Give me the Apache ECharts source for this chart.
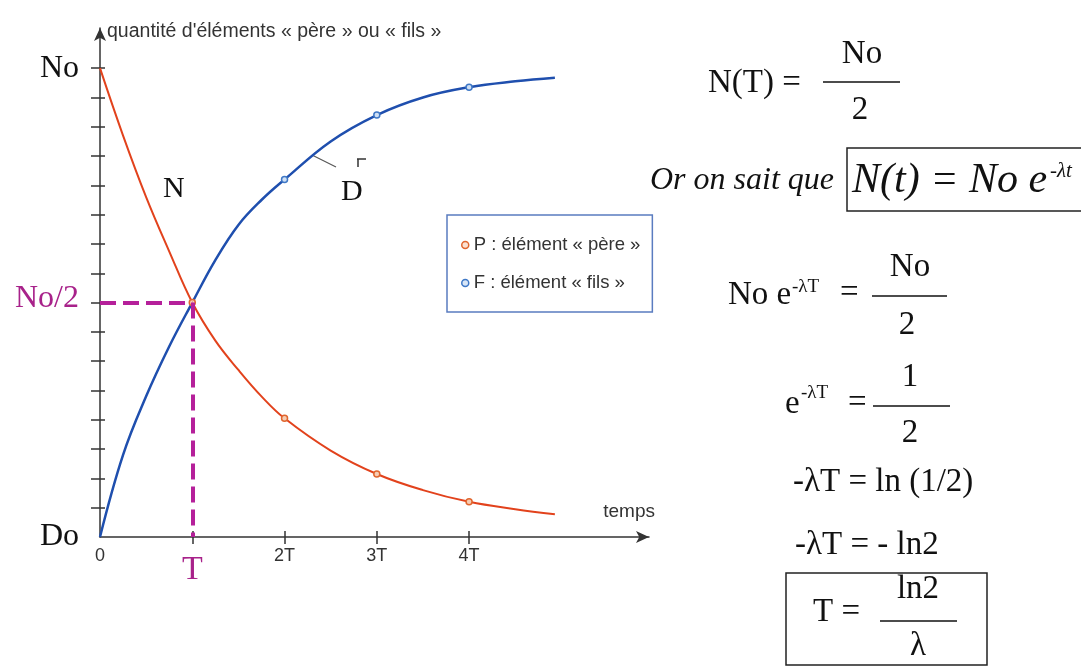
<!DOCTYPE html>
<html>
<head>
<meta charset="utf-8">
<script src="https://cdn.jsdelivr.net/npm/echarts@6/dist/echarts.min.js"></script>
<style>
  html, body { margin: 0; padding: 0; background: #ffffff; }
  #chart { width: 1081px; height: 666px; }
</style>
</head>
<body>
<div id="chart"></div>
<script>
// Décroissance radioactive : quantité d'éléments « père » et « fils » au cours du temps.
// Temps en multiples de la demi-vie T, quantités en seizièmes de No.
const temps = [0, 0.25, 0.5, 0.75, 1, 1.25, 1.5, 1.75, 2, 2.5, 3, 3.5, 4, 4.5, 4.93];
const pere  = [16, 13.7, 11.6, 9.75, 8, 6.7, 5.7, 4.8, 4.05, 2.95, 2.15, 1.6, 1.2, 0.95, 0.78];
const fils  = [0, 2.8, 4.8, 6.5, 8, 9.45, 10.65, 11.5, 12.2, 13.5, 14.4, 15.0, 15.35, 15.55, 15.67];

// instants où un point est marqué sur chaque courbe
const marquesPere = [1, 2, 3, 4];
const marquesFils = [2, 3, 4];

// graduations et libellés des axes
const xTicks = [1, 2, 3, 4];
const xLabelValues = [0, 1, 2, 3, 4];
const xLabels = { 0: '0', 1: 'T', 2: '2T', 3: '3T', 4: '4T' };
const yTicks = [1, 2, 3, 4, 5, 6, 7, 8, 9, 10, 11, 12, 13, 14, 15, 16];
const yLabelValues = [0, 8, 16];
const yLabels = { 0: 'Do', 8: 'No/2', 16: 'No' };

// demi-vie et moitié de la quantité initiale
const demiVie = 1;
const moitie = 8;

const nomPere = 'P : élément « père »';
const nomFils = 'F : élément « fils »';

const SERIF = "'Liberation Serif', 'Times New Roman', serif";
const SANS = "'Liberation Sans', Arial, sans-serif";
const ROUGE = '#e2421c';
const BLEU = '#1f4fae';
const MAGENTA = '#a8228a';
const AXE = '#333333';

function points(valeurs, marques, fond, bord) {
  return valeurs.map(function (v, i) {
    const item = { value: [temps[i], v] };
    if (marques.indexOf(temps[i]) >= 0) {
      item.symbol = 'circle';
      item.symbolSize = 6;
      item.itemStyle = { color: fond, borderColor: bord, borderWidth: 1.5 };
    }
    return item;
  });
}

function texte(x, y, t, size, opts) {
  opts = opts || {};
  return {
    type: 'text', x: x, y: y, silent: true,
    style: {
      text: t, fontFamily: SERIF, fontSize: size,
      fontStyle: opts.italic ? 'italic' : 'normal',
      fill: opts.color || '#111111',
      align: opts.align || 'left', verticalAlign: 'middle'
    }
  };
}
function trait(x1, y1, x2, y2, w, c) {
  return { type: 'line', silent: true, shape: { x1: x1, y1: y1, x2: x2, y2: y2 },
           style: { stroke: c || '#111111', lineWidth: w || 1.5 } };
}
function cadre(x, y, w, h) {
  return { type: 'rect', silent: true, shape: { x: x, y: y, width: w, height: h },
           style: { fill: 'none', stroke: '#222222', lineWidth: 1.5 } };
}

const chart = echarts.init(document.getElementById('chart'));

const axeX = {
  type: 'value', min: 0, max: 5.95, gridIndex: 0,
  splitLine: { show: false }
};
const axeY = {
  type: 'value', min: 0, max: 17.37, gridIndex: 0,
  splitLine: { show: false }
};

chart.setOption({
  animation: false,
  backgroundColor: '#ffffff',
  grid: { left: 100, right: 432, top: 28, bottom: 129, containLabel: false },
  xAxis: [
    Object.assign({}, axeX, {
      position: 'bottom',
      name: 'temps', nameLocation: 'end', nameGap: 6,
      nameTextStyle: { fontFamily: SANS, fontSize: 19, color: AXE, align: 'right',
                       verticalAlign: 'bottom', padding: [0, 0, 16, 0] },
      axisLine: { show: true, lineStyle: { color: AXE, width: 1.5 },
                  symbol: ['none', 'arrow'], symbolSize: [9, 13] },
      axisTick: { show: true, inside: false, length: 7, customValues: xTicks,
                  lineStyle: { color: AXE, width: 1.5 } },
      axisLabel: {
        show: true, margin: 9, customValues: xLabelValues,
        formatter: function (v) { return v === demiVie ? '{t|' + xLabels[v] + '}' : '{s|' + xLabels[v] + '}'; },
        rich: {
          s: { fontFamily: SANS, fontSize: 18, color: '#333333', lineHeight: 20 },
          t: { fontFamily: SERIF, fontSize: 34, color: MAGENTA, lineHeight: 34, padding: [14, 0, 0, 0] }
        }
      }
    }),
    Object.assign({}, axeX, {
      position: 'bottom',
      axisLine: { show: false },
      axisTick: { show: true, inside: true, length: 6, customValues: xTicks,
                  lineStyle: { color: AXE, width: 1.5 } },
      axisLabel: { show: false }
    })
  ],
  yAxis: [
    Object.assign({}, axeY, {
      position: 'left',
      name: "quantité d'éléments « père » ou « fils »", nameLocation: 'end', nameGap: -4,
      nameTextStyle: { fontFamily: SANS, fontSize: 19.5, color: AXE, align: 'left',
                       verticalAlign: 'middle', padding: [0, 0, 0, 7] },
      axisLine: { show: true, lineStyle: { color: AXE, width: 1.5 },
                  symbol: ['none', 'arrow'], symbolSize: [9, 13] },
      axisTick: { show: true, inside: false, length: 9, customValues: yTicks,
                  lineStyle: { color: AXE, width: 1.5 } },
      axisLabel: {
        show: true, margin: 21, customValues: yLabelValues,
        formatter: function (v) { return v === moitie ? '{m|' + yLabels[v] + '}' : '{n|' + yLabels[v] + '}'; },
        rich: {
          n: { fontFamily: SERIF, fontSize: 32, color: '#111111' },
          m: { fontFamily: SERIF, fontSize: 32, color: MAGENTA, padding: [0, 0, 8, 0] }
        }
      }
    }),
    Object.assign({}, axeY, {
      position: 'left',
      axisLine: { show: false },
      axisTick: { show: true, inside: true, length: 5, customValues: yTicks,
                  lineStyle: { color: AXE, width: 1.5 } },
      axisLabel: { show: false }
    })
  ],
  legend: {
    left: 447, top: 215, orient: 'vertical',
    icon: 'circle', itemWidth: 7, itemHeight: 7, itemGap: 18,
    padding: [20, 12, 19, 14],
    borderColor: '#5a7cc0', borderWidth: 1.5, backgroundColor: '#ffffff',
    textStyle: { fontFamily: SANS, fontSize: 18.5, color: '#333333', lineHeight: 20 },
    data: [
      { name: nomPere, itemStyle: { color: '#fbe0d0', borderColor: '#e0662e', borderWidth: 1.5 } },
      { name: nomFils, itemStyle: { color: '#d8e6f7', borderColor: '#3f78c6', borderWidth: 1.5 } }
    ]
  },
  series: [
    {
      name: nomPere, type: 'line', xAxisIndex: 0, yAxisIndex: 0,
      smooth: 0.4, symbol: 'none',
      itemStyle: { color: ROUGE },
      lineStyle: { color: ROUGE, width: 2 },
      data: points(pere, marquesPere, '#f6cdb4', '#e0662e'),
      markLine: {
        silent: true, symbol: 'none', label: { show: false },
        lineStyle: { color: '#b5209a', width: 4, type: [16, 7] },
        data: [
          [{ coord: [0, moitie] }, { coord: [demiVie, moitie] }],
          [{ coord: [demiVie, moitie] }, { coord: [demiVie, 0] }]
        ]
      },
      z: 3
    },
    {
      name: nomFils, type: 'line', xAxisIndex: 0, yAxisIndex: 0,
      smooth: 0.4, symbol: 'none',
      itemStyle: { color: BLEU },
      lineStyle: { color: BLEU, width: 2.5 },
      data: points(fils, marquesFils, '#cfe0f5', '#3f78c6'),
      z: 3
    }
  ],
  graphic: [
    // repères des courbes
    texte(163, 189, 'N', 30),
    texte(341, 192, 'D', 30),
    trait(312, 155, 336, 167, 1.2, '#555555'),
    trait(357, 159, 366, 159, 1.5, '#333333'),
    trait(358, 159, 358, 167, 1.5, '#333333'),

    // N(T) = No / 2
    texte(708, 83, 'N(T) =', 33),
    texte(862, 54, 'No', 33, { align: 'center' }),
    trait(823, 82, 900, 82, 1.5),
    texte(860, 110, '2', 33, { align: 'center' }),

    // loi de décroissance
    texte(650, 181, 'Or on sait que', 32, { italic: true }),
    cadre(847, 148, 250, 63),
    texte(852, 181, 'N(t) = No e', 42, { italic: true }),
    texte(1050, 171, '-λt', 21, { italic: true }),

    // No e^-λT = No / 2
    texte(728, 295, 'No e', 33),
    texte(792, 287, '-λT', 19),
    texte(840, 293, '=', 33),
    trait(872, 296, 947, 296, 1.5),
    texte(910, 267, 'No', 33, { align: 'center' }),
    texte(907, 325, '2', 33, { align: 'center' }),

    // e^-λT = 1 / 2
    texte(785, 404, 'e', 33),
    texte(801, 393, '-λT', 19),
    texte(848, 403, '=', 33),
    trait(873, 406, 950, 406, 1.5),
    texte(910, 377, '1', 33, { align: 'center' }),
    texte(910, 433, '2', 33, { align: 'center' }),

    texte(793, 482, '-λT = ln (1/2)', 33),
    texte(795, 545, '-λT = - ln2', 33),

    // T = ln2 / λ
    cadre(786, 573, 201, 92),
    texte(813, 612, 'T =', 33),
    trait(880, 621, 957, 621, 1.5),
    texte(918, 589, 'ln2', 33, { align: 'center' }),
    texte(918, 646, 'λ', 33, { align: 'center' })
  ]
});
</script>
</body>
</html>
